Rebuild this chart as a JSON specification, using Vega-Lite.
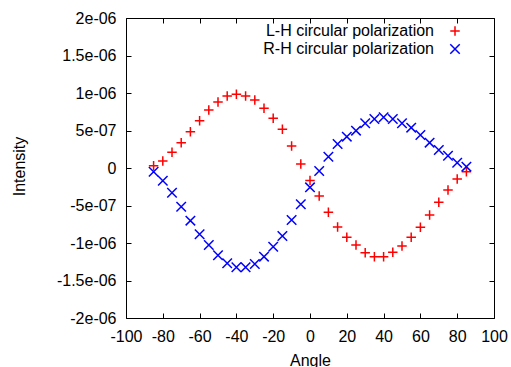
{
  "$schema": "https://vega.github.io/schema/vega-lite/v6.json",
  "width": 368,
  "height": 300,
  "autosize": "none",
  "padding": {"left": 126, "top": 18, "right": 17, "bottom": 49},
  "config": {
    "view": {"stroke": "black", "strokeWidth": 1},
    "font": "Liberation Sans",
    "axis": {
      "domain": false,
      "grid": false,
      "tickSize": 5,
      "offset": -5,
      "tickColor": "black",
      "tickWidth": 1,
      "labelFont": "Liberation Sans",
      "labelFontSize": 16,
      "labelColor": "black",
      "labelPadding": 10,
      "titleFont": "Liberation Sans",
      "titleFontSize": 16,
      "titleFontWeight": "normal",
      "titleColor": "black"
    }
  },
  "data": {
    "values": [
      {"angle": -85, "intensity": 3e-8, "series": "L-H circular polarization"},
      {"angle": -80, "intensity": 9.3e-8, "series": "L-H circular polarization"},
      {"angle": -75, "intensity": 2.09e-7, "series": "L-H circular polarization"},
      {"angle": -70, "intensity": 3.38e-7, "series": "L-H circular polarization"},
      {"angle": -65, "intensity": 4.84e-7, "series": "L-H circular polarization"},
      {"angle": -60, "intensity": 6.31e-7, "series": "L-H circular polarization"},
      {"angle": -55, "intensity": 7.73e-7, "series": "L-H circular polarization"},
      {"angle": -50, "intensity": 8.8e-7, "series": "L-H circular polarization"},
      {"angle": -45, "intensity": 9.6e-7, "series": "L-H circular polarization"},
      {"angle": -40, "intensity": 9.82e-7, "series": "L-H circular polarization"},
      {"angle": -35, "intensity": 9.6e-7, "series": "L-H circular polarization"},
      {"angle": -30, "intensity": 9.07e-7, "series": "L-H circular polarization"},
      {"angle": -25, "intensity": 7.96e-7, "series": "L-H circular polarization"},
      {"angle": -20, "intensity": 6.62e-7, "series": "L-H circular polarization"},
      {"angle": -15, "intensity": 5.16e-7, "series": "L-H circular polarization"},
      {"angle": -10, "intensity": 2.93e-7, "series": "L-H circular polarization"},
      {"angle": -5, "intensity": 5.3e-8, "series": "L-H circular polarization"},
      {"angle": 0, "intensity": -1.65e-7, "series": "L-H circular polarization"},
      {"angle": 5, "intensity": -3.73e-7, "series": "L-H circular polarization"},
      {"angle": 10, "intensity": -5.91e-7, "series": "L-H circular polarization"},
      {"angle": 15, "intensity": -7.87e-7, "series": "L-H circular polarization"},
      {"angle": 20, "intensity": -9.24e-7, "series": "L-H circular polarization"},
      {"angle": 25, "intensity": -1.027e-6, "series": "L-H circular polarization"},
      {"angle": 30, "intensity": -1.129e-6, "series": "L-H circular polarization"},
      {"angle": 35, "intensity": -1.182e-6, "series": "L-H circular polarization"},
      {"angle": 40, "intensity": -1.182e-6, "series": "L-H circular polarization"},
      {"angle": 45, "intensity": -1.124e-6, "series": "L-H circular polarization"},
      {"angle": 50, "intensity": -1.04e-6, "series": "L-H circular polarization"},
      {"angle": 55, "intensity": -9.24e-7, "series": "L-H circular polarization"},
      {"angle": 60, "intensity": -7.91e-7, "series": "L-H circular polarization"},
      {"angle": 65, "intensity": -6.27e-7, "series": "L-H circular polarization"},
      {"angle": 70, "intensity": -4.58e-7, "series": "L-H circular polarization"},
      {"angle": 75, "intensity": -2.93e-7, "series": "L-H circular polarization"},
      {"angle": 80, "intensity": -1.47e-7, "series": "L-H circular polarization"},
      {"angle": 85, "intensity": -4.9e-8, "series": "L-H circular polarization"},
      {"angle": -85, "intensity": -4.9e-8, "series": "R-H circular polarization"},
      {"angle": -80, "intensity": -1.69e-7, "series": "R-H circular polarization"},
      {"angle": -75, "intensity": -3.29e-7, "series": "R-H circular polarization"},
      {"angle": -70, "intensity": -5.16e-7, "series": "R-H circular polarization"},
      {"angle": -65, "intensity": -7.02e-7, "series": "R-H circular polarization"},
      {"angle": -60, "intensity": -8.84e-7, "series": "R-H circular polarization"},
      {"angle": -55, "intensity": -1.027e-6, "series": "R-H circular polarization"},
      {"angle": -50, "intensity": -1.164e-6, "series": "R-H circular polarization"},
      {"angle": -45, "intensity": -1.271e-6, "series": "R-H circular polarization"},
      {"angle": -40, "intensity": -1.324e-6, "series": "R-H circular polarization"},
      {"angle": -35, "intensity": -1.324e-6, "series": "R-H circular polarization"},
      {"angle": -30, "intensity": -1.28e-6, "series": "R-H circular polarization"},
      {"angle": -25, "intensity": -1.182e-6, "series": "R-H circular polarization"},
      {"angle": -20, "intensity": -1.049e-6, "series": "R-H circular polarization"},
      {"angle": -15, "intensity": -9.07e-7, "series": "R-H circular polarization"},
      {"angle": -10, "intensity": -6.93e-7, "series": "R-H circular polarization"},
      {"angle": -5, "intensity": -4.84e-7, "series": "R-H circular polarization"},
      {"angle": 0, "intensity": -2.58e-7, "series": "R-H circular polarization"},
      {"angle": 5, "intensity": -4e-8, "series": "R-H circular polarization"},
      {"angle": 10, "intensity": 1.51e-7, "series": "R-H circular polarization"},
      {"angle": 15, "intensity": 3.2e-7, "series": "R-H circular polarization"},
      {"angle": 20, "intensity": 4.18e-7, "series": "R-H circular polarization"},
      {"angle": 25, "intensity": 4.98e-7, "series": "R-H circular polarization"},
      {"angle": 30, "intensity": 5.96e-7, "series": "R-H circular polarization"},
      {"angle": 35, "intensity": 6.53e-7, "series": "R-H circular polarization"},
      {"angle": 40, "intensity": 6.76e-7, "series": "R-H circular polarization"},
      {"angle": 45, "intensity": 6.53e-7, "series": "R-H circular polarization"},
      {"angle": 50, "intensity": 5.96e-7, "series": "R-H circular polarization"},
      {"angle": 55, "intensity": 5.38e-7, "series": "R-H circular polarization"},
      {"angle": 60, "intensity": 4.4e-7, "series": "R-H circular polarization"},
      {"angle": 65, "intensity": 3.38e-7, "series": "R-H circular polarization"},
      {"angle": 70, "intensity": 2.4e-7, "series": "R-H circular polarization"},
      {"angle": 75, "intensity": 1.64e-7, "series": "R-H circular polarization"},
      {"angle": 80, "intensity": 7.1e-8, "series": "R-H circular polarization"},
      {"angle": 85, "intensity": 1.8e-8, "series": "R-H circular polarization"}
    ]
  },
  "layer": [
    {
      "mark": {"type": "point", "filled": false, "strokeWidth": 1.5, "opacity": 1},
      "encoding": {
        "x": {
          "field": "angle", "type": "quantitative",
          "scale": {"domain": [-100, 100], "nice": false},
          "axis": {
            "title": "Angle",
            "values": [-100, -80, -60, -40, -20, 0, 20, 40, 60, 80, 100],
            "labelExpr": "replace(datum.label, '−', '-')",
            "labelFlush": false,
            "titleY": 52,
            "titleBaseline": "alphabetic"
          }
        },
        "y": {
          "field": "intensity", "type": "quantitative",
          "scale": {"domain": [-2e-6, 2e-6], "nice": false},
          "axis": {
            "title": "Intensity",
            "values": [-2e-6, -1.5e-6, -1e-6, -5e-7, 0, 5e-7, 1e-6, 1.5e-6, 2e-6],
            "labelExpr": "datum.value == 0 ? '0' : replace(replace(format(datum.value, '~e'), 'e-', 'e-0'), '−', '-')",
            "labelFlush": false,
            "titleX": -111.5,
            "titleY": 148,
            "titleBaseline": "middle",
            "titleAngle": -90
          }
        },
        "color": {
          "field": "series", "type": "nominal",
          "scale": {"domain": ["L-H circular polarization", "R-H circular polarization"], "range": ["#ff0000", "#0000ff"]},
          "legend": {
            "title": null,
            "orient": "none",
            "legendX": 321,
            "legendY": 5,
            "labelAlign": "right",
            "labelOffset": -29,
            "labelLimit": 400,
            "labelFontSize": 16,
            "labelFont": "Liberation Sans",
            "labelColor": "black",
            "rowPadding": 2,
            "symbolStrokeWidth": 1.5,
            "symbolSize": 90
          }
        },
        "shape": {
          "field": "series", "type": "nominal",
          "scale": {"domain": ["L-H circular polarization", "R-H circular polarization"], "range": ["M-1,0H1M0,-1V1", "M-1,-1L1,1M-1,1L1,-1"]},
          "legend": null
        },
        "size": {"value": 90}
      }
    },
    {
      "mark": {"type": "point", "opacity": 0},
      "encoding": {
        "x": {
          "field": "angle", "type": "quantitative",
          "axis": {"orient": "top", "title": null, "labels": false, "values": [-100, -80, -60, -40, -20, 0, 20, 40, 60, 80, 100]}
        },
        "y": {
          "field": "intensity", "type": "quantitative",
          "axis": {"orient": "right", "title": null, "labels": false, "values": [-2e-6, -1.5e-6, -1e-6, -5e-7, 0, 5e-7, 1e-6, 1.5e-6, 2e-6]}
        }
      }
    }
  ],
  "resolve": {"axis": {"x": "independent", "y": "independent"}}
}
